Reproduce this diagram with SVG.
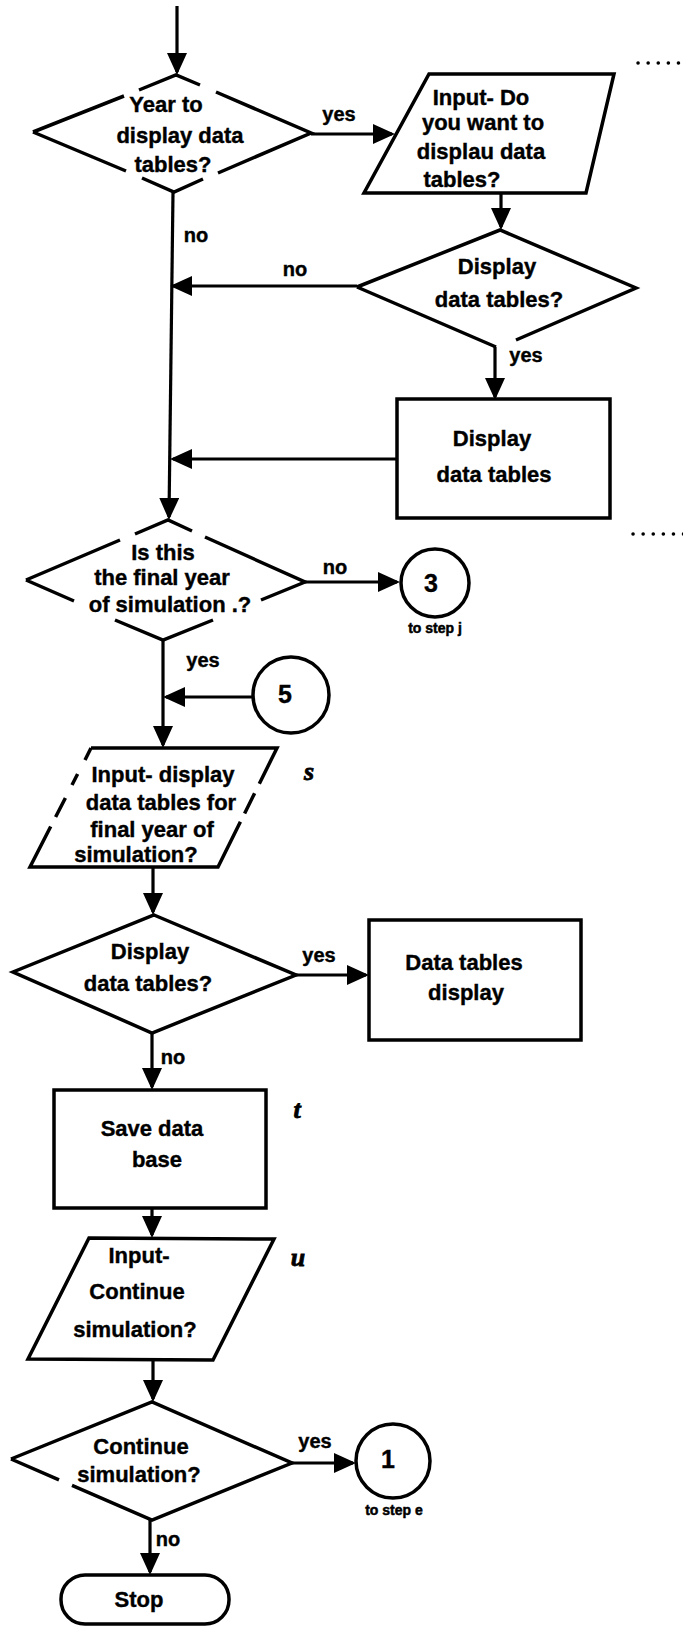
<svg xmlns="http://www.w3.org/2000/svg" width="683" height="1626" viewBox="0 0 683 1626">
  <style>
    .sh { fill: #fff; stroke: #000; stroke-width: 3.5; stroke-linejoin: miter; }
    .ln { fill: none; stroke: #000; stroke-width: 3.5; stroke-linejoin: miter; }
    .cn { fill: none; stroke: #000; stroke-width: 3.2; marker-end: url(#ah); }
    .tx { font-family: "Liberation Sans", Arial, sans-serif; font-weight: bold; font-size: 22px; text-anchor: middle; fill: #000; stroke: #000; stroke-width: 0.4; }
    .lb { font-family: "Liberation Sans", Arial, sans-serif; font-weight: bold; font-size: 20px; text-anchor: middle; fill: #000; stroke: #000; stroke-width: 0.4; }
    .dg { font-family: "Liberation Sans", Arial, sans-serif; font-weight: bold; font-size: 25px; text-anchor: middle; fill: #000; stroke: #000; stroke-width: 0.4; }
    .sm { font-family: "Liberation Sans", Arial, sans-serif; font-weight: bold; font-size: 14px; text-anchor: middle; fill: #000; stroke: #000; stroke-width: 0.5; }
    .st { font-family: "Liberation Serif", "Times New Roman", serif; font-weight: bold; font-style: italic; font-size: 26px; text-anchor: middle; fill: #000; stroke: #000; stroke-width: 0.8; }
    .dots { fill: none; stroke: #000; stroke-width: 3.5; stroke-linecap: round; stroke-dasharray: 0.1 10; }
  </style>
  <defs>
    <marker id="ah" markerUnits="userSpaceOnUse" markerWidth="22" markerHeight="20" refX="19" refY="10" orient="auto">
      <path d="M0,0 L22,10 L0,20 Z" fill="#000"/>
    </marker>
  </defs>
  <rect width="683" height="1626" fill="#fff"/>

  <!-- dotted section marks at the right margin -->
  <line class="dots" x1="638" y1="63" x2="690" y2="63"/>
  <line class="dots" x1="633" y1="534" x2="690" y2="534"/>

  <!-- connectors -->
  <g id="connectors">
    <path class="cn" d="M177,6 V72"/>
    <path class="cn" d="M311,134 H392"/>
    <path class="cn" d="M501,193 V227"/>
    <path class="cn" d="M357,286 H173"/>
    <path class="cn" d="M495,347 V397"/>
    <path class="cn" d="M397,459 H173"/>
    <path class="cn" d="M173,192 L169,517"/>
    <path class="cn" d="M305,582 H397"/>
    <path class="cn" d="M163,640 V745"/>
    <path class="cn" d="M253,697 H166"/>
    <path class="cn" d="M153,867 V912"/>
    <path class="cn" d="M296,975 H366"/>
    <path class="cn" d="M152,1033 V1087"/>
    <path class="cn" d="M152,1208 V1235"/>
    <path class="cn" d="M153,1360 V1399"/>
    <path class="cn" d="M292,1463 H353"/>
    <path class="cn" d="M150,1520 V1572"/>

    <text class="lb" x="339" y="121">yes</text>
    <text class="lb" x="196" y="242">no</text>
    <text class="lb" x="295" y="276">no</text>
    <text class="lb" x="526" y="362">yes</text>
    <text class="lb" x="335" y="574">no</text>
    <text class="lb" x="203" y="667">yes</text>
    <text class="lb" x="319" y="962">yes</text>
    <text class="lb" x="173" y="1064">no</text>
    <text class="lb" x="315" y="1448">yes</text>
    <text class="lb" x="168" y="1546">no</text>
  </g>

  <!-- decision: year to display data tables -->
  <g id="d_year">
    <path class="ln" d="M33,132 L124,96 M139,90 L176,75 L200,85 M216,92 L311,133 L218,173 M203,179 L174,192 L142,178 M126,171 L33,132"/>
    <text class="tx" x="166" y="112">Year to</text>
    <text class="tx" x="180" y="143">display data</text>
    <text class="tx" x="173" y="172">tables?</text>
  </g>

  <!-- input: want to display tables -->
  <g id="in_want">
    <polygon class="sh" points="429,74 614,74 586,193 364,193"/>
    <text class="tx" x="481" y="105">Input- Do</text>
    <text class="tx" x="483" y="130">you want to</text>
    <text class="tx" x="481" y="159">displau data</text>
    <text class="tx" x="462" y="187">tables?</text>
  </g>

  <!-- decision: display data tables -->
  <g id="d_disp1">
    <path class="ln" d="M357,287 L500,230 L636,288 L516,340 M496,347 L357,287"/>
    <text class="tx" x="497" y="274">Display</text>
    <text class="tx" x="499" y="307">data tables?</text>
  </g>

  <!-- process: display data tables -->
  <g id="p_disp1">
    <rect class="sh" x="397" y="399" width="213" height="119"/>
    <text class="tx" x="492" y="446">Display</text>
    <text class="tx" x="494" y="482">data tables</text>
  </g>

  <!-- decision: final year -->
  <g id="d_final">
    <path class="ln" d="M26,580 L120,540 M135,534 L168,520 L192,531 M205,537 L305,582 L261,600 M213,620 L163,640 L115,620 M74,601 L26,580"/>
    <text class="tx" x="163" y="560">Is this</text>
    <text class="tx" x="162" y="585">the final year</text>
    <text class="tx" x="170" y="612">of simulation .?</text>
  </g>

  <!-- off-page connector 3 -->
  <g id="c3">
    <circle class="sh" cx="435" cy="583" r="34"/>
    <text class="dg" x="431" y="592">3</text>
    <text class="sm" x="435" y="633">to step j</text>
  </g>

  <!-- on-page connector 5 -->
  <g id="c5">
    <circle class="sh" cx="291" cy="695" r="38"/>
    <text class="dg" x="285" y="703">5</text>
  </g>

  <!-- input: final year tables -->
  <g id="in_final">
    <path class="ln" d="M91,748 L277,748 L259.3,783.7 M254.6,793.2 L244.6,813.5 M240.4,821.8 L218,867 L30,867 L50.7,826.5 M55.6,817 L65.4,798 M72,785 L77.6,774 M85,760 L91,748"/>
    <text class="tx" x="163" y="782">Input- display</text>
    <text class="tx" x="161" y="810">data tables for</text>
    <text class="tx" x="152" y="837">final year of</text>
    <text class="tx" x="136" y="862">simulation?</text>
    <text class="st" x="309" y="780">s</text>
  </g>

  <!-- decision: display data tables (final year) -->
  <g id="d_disp2">
    <polygon class="sh" points="154,915 296,975 152,1033 13,972"/>
    <text class="tx" x="150" y="959">Display</text>
    <text class="tx" x="148" y="991">data tables?</text>
  </g>

  <!-- process: data tables display -->
  <g id="p_disp2">
    <rect class="sh" x="369" y="920" width="212" height="120"/>
    <text class="tx" x="464" y="970">Data tables</text>
    <text class="tx" x="466" y="1000">display</text>
  </g>

  <!-- process: save data base -->
  <g id="p_save">
    <rect class="sh" x="54" y="1090" width="212" height="118"/>
    <text class="tx" x="152" y="1136">Save data</text>
    <text class="tx" x="157" y="1167">base</text>
    <text class="st" x="297" y="1118">t</text>
  </g>

  <!-- input: continue simulation -->
  <g id="in_cont">
    <polygon class="sh" points="89,1238 274,1239 213,1360 28,1359"/>
    <text class="tx" x="139" y="1263">Input-</text>
    <text class="tx" x="137" y="1299">Continue</text>
    <text class="tx" x="135" y="1337">simulation?</text>
    <text class="st" x="298" y="1266">u</text>
  </g>

  <!-- decision: continue simulation -->
  <g id="d_cont">
    <path class="ln" d="M11,1459 L152,1402 L292,1463 L152,1520 L72,1485.4 M59,1479.8 L11,1459"/>
    <text class="tx" x="141" y="1454">Continue</text>
    <text class="tx" x="139" y="1482">simulation?</text>
  </g>

  <!-- off-page connector 1 -->
  <g id="c1">
    <circle class="sh" cx="393" cy="1461" r="37"/>
    <text class="dg" x="388" y="1468">1</text>
    <text class="sm" x="394" y="1515">to step e</text>
  </g>

  <!-- terminator -->
  <g id="t_stop">
    <rect class="sh" x="61" y="1575" width="168" height="49" rx="24" ry="24"/>
    <text class="tx" x="139" y="1607">Stop</text>
  </g>
</svg>
